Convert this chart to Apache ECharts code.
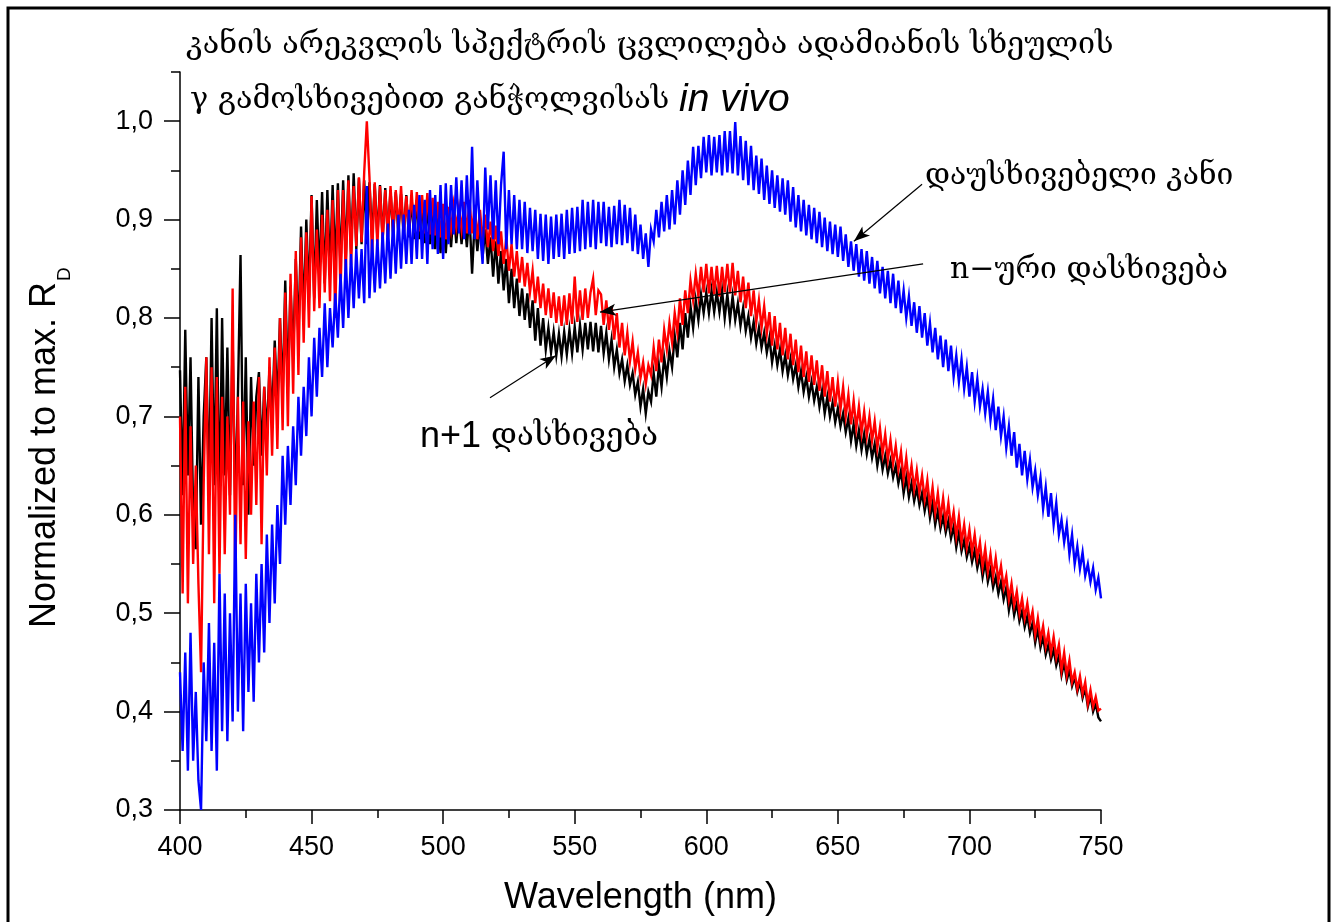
<!DOCTYPE html>
<html>
<head>
<meta charset="utf-8">
<script src="https://cdn.jsdelivr.net/npm/echarts@6/dist/echarts.min.js"></script>
<style>
html, body { margin: 0; padding: 0; background: #fff; }
#main { width: 1336px; height: 922px; }
</style>
</head>
<body>
<div id="main"></div>
<script>
// sampling grid of the spectra (nm)
var wlStart = 400;
var wlStep = 1;

// unirradiated skin (blue), 400..750 nm
var blueVals = [
  .44,.36,.46,.34,.48,.35,.42,.33,.30,.45,
  .37,.49,.36,.47,.34,.54,.38,.52,.37,.50,
  .39,.60,.40,.52,.38,.53,.42,.51,.41,.54,
  .45,.55,.46,.58,.49,.59,.51,.61,.55,.66,
  .59,.67,.61,.69,.63,.72,.66,.73,.68,.76,
  .70,.78,.72,.79,.74,.815,.75,.81,.77,.825,
  .78,.845,.79,.86,.80,.865,.81,.87,.82,.87,
  .815,.934,.82,.88,.826,.88,.83,.887,.835,.896,
  .84,.90,.845,.905,.85,.905,.855,.91,.855,.915,
  .86,.925,.86,.92,.855,.93,.87,.925,.865,.935,
  .86,.937,.875,.935,.885,.943,.886,.94,.88,.945,
  .885,.974,.88,.94,.89,.855,.953,.89,.945,.88,
  .94,.875,.935,.969,.87,.93,.875,.925,.87,.92,
  .87,.918,.866,.912,.868,.91,.86,.906,.858,.905,
  .855,.903,.86,.905,.862,.906,.86,.91,.865,.912,
  .866,.913,.868,.92,.87,.918,.872,.92,.87,.918,
  .876,.918,.873,.913,.872,.914,.875,.92,.874,.915,
  .876,.912,.868,.905,.865,.895,.86,.886,.852,.89,
  .878,.91,.882,.918,.888,.925,.89,.93,.895,.94,
  .905,.95,.915,.96,.925,.974,.935,.975,.942,.984,
  .948,.986,.945,.984,.948,.986,.945,.99,.948,.99,
  .947,.999,.945,.985,.94,.98,.935,.975,.93,.965,
  .926,.962,.92,.955,.916,.95,.912,.945,.908,.942,
  .905,.94,.898,.933,.892,.925,.888,.92,.884,.915,
  .88,.912,.876,.908,.872,.902,.868,.898,.865,.895,
  .862,.893,.858,.885,.852,.878,.848,.875,.842,.87,
  .838,.868,.835,.862,.83,.858,.825,.852,.82,.848,
  .815,.845,.81,.838,.805,.828,.8,.822,.792,.816,
  .785,.812,.78,.805,.772,.795,.765,.79,.758,.782,
  .75,.778,.746,.772,.74,.762,.735,.758,.728,.75,
  .72,.745,.715,.738,.71,.728,.703,.725,.696,.718,
  .686,.71,.68,.7,.668,.69,.66,.684,.648,.672,
  .64,.665,.636,.656,.628,.645,.62,.638,.606,.628,
  .598,.622,.59,.612,.58,.595,.572,.59,.56,.58,
  .55,.568,.545,.562,.538,.55,.532,.546,.524,.536,
  .515
];

// n-th irradiation (red)
var redVals = [
  .70,.52,.73,.51,.69,.55,.65,.53,.44,.63,
  .76,.56,.75,.51,.74,.54,.72,.56,.70,.60,
  .83,.53,.72,.57,.715,.555,.695,.60,.715,.61,
  .74,.57,.73,.64,.76,.66,.77,.667,.80,.686,
  .826,.69,.845,.723,.868,.742,.882,.775,.887,.79,
  .924,.807,.89,.81,.905,.826,.91,.817,.92,.80,
  .93,.826,.93,.845,.94,.854,.934,.873,.943,.877,
  .948,1.0,.943,.863,.938,.873,.934,.877,.93,.882,
  .934,.887,.93,.887,.934,.882,.924,.887,.93,.887,
  .928,.888,.925,.886,.927,.885,.922,.884,.918,.882,
  .916,.88,.913,.89,.915,.892,.912,.89,.918,.886,
  .92,.886,.915,.88,.91,.879,.905,.872,.898,.868,
  .894,.863,.888,.855,.882,.848,.875,.842,.868,.836,
  .862,.832,.856,.826,.848,.815,.842,.81,.835,.803,
  .83,.80,.826,.795,.822,.792,.823,.793,.825,.794,
  .842,.796,.828,.798,.83,.80,.826,.84,.803,.828,
  .824,.793,.818,.788,.812,.778,.805,.77,.795,.762,
  .785,.756,.776,.748,.765,.739,.755,.733,.752,.742,
  .77,.746,.778,.755,.788,.768,.795,.775,.805,.785,
  .82,.793,.828,.805,.838,.818,.845,.822,.852,.826,
  .855,.825,.852,.824,.853,.822,.852,.826,.855,.825,
  .856,.823,.848,.816,.842,.81,.836,.802,.828,.796,
  .818,.79,.812,.784,.806,.772,.802,.768,.795,.762,
  .79,.758,.784,.752,.778,.745,.772,.74,.766,.735,
  .762,.732,.757,.726,.752,.72,.746,.715,.74,.71,
  .735,.707,.73,.7,.722,.692,.716,.688,.71,.683,
  .705,.68,.7,.675,.695,.668,.688,.662,.682,.656,
  .676,.652,.67,.646,.664,.636,.658,.632,.65,.626,
  .645,.622,.64,.616,.635,.608,.628,.602,.622,.596,
  .617,.592,.612,.587,.603,.578,.598,.572,.59,.567,
  .585,.562,.58,.556,.572,.547,.566,.542,.56,.537,
  .556,.533,.548,.526,.538,.514,.53,.508,.522,.5,
  .515,.495,.51,.49,.502,.478,.495,.473,.487,.466,
  .48,.46,.476,.455,.468,.442,.46,.437,.452,.43,
  .44,.423,.436,.418,.43,.408,.422,.405,.415,.401,
  .403
];

// n+1 irradiation (black)
var blackVals = [
  .747,.62,.788,.64,.76,.60,.565,.74,.59,.70,
  .76,.62,.80,.63,.81,.60,.80,.64,.77,.62,
  .78,.61,.72,.864,.63,.76,.60,.74,.65,.72,
  .745,.66,.73,.68,.75,.70,.777,.71,.80,.72,
  .838,.73,.832,.76,.86,.78,.893,.80,.90,.82,
  .925,.82,.92,.84,.928,.835,.93,.845,.935,.85,
  .937,.85,.94,.86,.945,.865,.947,.87,.942,.875,
  .94,.875,.938,.88,.936,.882,.935,.88,.932,.882,
  .93,.884,.928,.886,.926,.885,.925,.882,.922,.88,
  .92,.88,.918,.876,.915,.875,.912,.87,.908,.866,
  .905,.866,.906,.872,.91,.876,.908,.875,.906,.872,
  .906,.845,.9,.868,.895,.862,.89,.855,.882,.842,
  .878,.835,.868,.828,.86,.815,.85,.81,.84,.802,
  .83,.798,.825,.79,.818,.777,.81,.772,.8,.768,
  .79,.765,.786,.762,.784,.761,.786,.763,.788,.764,
  .791,.765,.793,.768,.795,.768,.796,.766,.795,.765,
  .792,.764,.785,.758,.778,.75,.768,.744,.758,.736,
  .752,.732,.744,.722,.735,.71,.728,.703,.725,.715,
  .744,.72,.752,.73,.76,.74,.767,.75,.782,.76,
  .795,.768,.805,.78,.812,.79,.818,.798,.824,.805,
  .826,.805,.828,.806,.826,.806,.828,.8,.824,.798,
  .822,.798,.815,.792,.81,.787,.802,.78,.796,.774,
  .79,.77,.785,.765,.78,.755,.772,.752,.768,.746,
  .762,.742,.758,.738,.752,.73,.746,.725,.74,.72,
  .735,.716,.73,.71,.726,.703,.72,.7,.714,.694,
  .708,.69,.703,.684,.698,.675,.692,.67,.686,.666,
  .682,.662,.677,.658,.672,.65,.666,.646,.66,.642,
  .655,.638,.65,.632,.645,.622,.638,.618,.632,.614,
  .627,.61,.622,.604,.618,.597,.612,.59,.604,.586,
  .598,.582,.594,.576,.588,.567,.582,.563,.574,.557,
  .568,.552,.564,.546,.558,.537,.552,.532,.544,.526,
  .537,.52,.532,.514,.526,.503,.518,.498,.51,.492,
  .502,.486,.497,.48,.49,.47,.484,.465,.476,.458,
  .468,.453,.463,.447,.457,.437,.45,.432,.442,.426,
  .435,.42,.43,.414,.424,.405,.416,.4,.408,.394,
  .39
];

var xTicks = [400, 450, 500, 550, 600, 650, 700, 750];
var yTicks = [0.3, 0.4, 0.5, 0.6, 0.7, 0.8, 0.9, 1.0];

// arrows: [tail, tip] in data coords
var arrowUnirr = [[682.0, 0.936], [656.1, 0.878]];
var arrowNth = [[682.4, 0.855], [559.6, 0.806]];
var arrowN1 = [[517.8, 0.719], [542.9, 0.762]];

var sans = "'Liberation Sans', Arial, sans-serif";
var geo = "'DejaVu Serif', 'DejaVu Sans', serif";

function toPairs(vals) {
  return vals.map(function (v, i) { return [wlStart + i * wlStep, v]; });
}

function spectrum(name, vals, color, extra) {
  var s = {
    name: name,
    type: "line",
    data: toPairs(vals),
    symbol: "none",
    silent: true,
    animation: false,
    lineStyle: { color: color, width: 2.4, join: "miter" }
  };
  return Object.assign(s, extra || {});
}

var myChart = echarts.init(document.getElementById("main"));

var option = {
  backgroundColor: "#fff",
  animation: false,
  grid: { left: 180, top: 72, width: 921, height: 738 },
  xAxis: {
    type: "value",
    min: 400,
    max: 750,
    interval: 50,
    splitLine: { show: false },
    axisLine: { lineStyle: { color: "#000", width: 1.5 } },
    axisTick: { length: 14, lineStyle: { color: "#000", width: 1.5 } },
    minorTick: { show: true, splitNumber: 2, length: 8, lineStyle: { color: "#000", width: 1.5 } },
    axisLabel: {
      color: "#000",
      fontFamily: sans,
      fontSize: 27,
      margin: 24,
      customValues: xTicks
    },
    name: "Wavelength (nm)",
    nameLocation: "middle",
    nameGap: 70,
    nameTextStyle: { color: "#000", fontFamily: sans, fontSize: 36 }
  },
  yAxis: [
    {
      type: "value",
      min: 0.3,
      max: 1.05,
      interval: 0.05,
      splitLine: { show: false },
      axisLine: { show: true, lineStyle: { color: "#000", width: 1.5 } },
      axisTick: { length: 9, lineStyle: { color: "#000", width: 1.5 } },
      axisLabel: { show: false }
    },
    {
      type: "value",
      min: 0.3,
      max: 1.05,
      position: "left",
      splitLine: { show: false },
      axisLine: { show: false },
      axisTick: { show: true, length: 16, customValues: yTicks, lineStyle: { color: "#000", width: 1.5 } },
      axisLabel: {
        color: "#000",
        fontFamily: sans,
        fontSize: 27,
        margin: 27,
        customValues: yTicks,
        formatter: function (v) { return v.toFixed(1).replace(".", ","); }
      }
    }
  ],
  series: [
    spectrum("n+1", blackVals, "#000000"),
    spectrum("n", redVals, "#ff0000"),
    spectrum("unirradiated", blueVals, "#0000ff", {
      markLine: {
        silent: true,
        animation: false,
        symbol: ["none", "arrow"],
        symbolSize: [9, 16],
        label: { show: false },
        lineStyle: { color: "#000", width: 1.2, type: "solid" },
        emphasis: { disabled: true },
        data: [
          [{ coord: arrowUnirr[0] }, { coord: arrowUnirr[1] }],
          [{ coord: arrowNth[0] }, { coord: arrowNth[1] }],
          [{ coord: arrowN1[0] }, { coord: arrowN1[1] }]
        ]
      }
    })
  ],
  graphic: [
    {
      type: "rect",
      shape: { x: 8, y: 8, width: 1321, height: 940 },
      style: { fill: "none", stroke: "#000", lineWidth: 3 },
      silent: true
    },
    {
      type: "text",
      x: 186, y: 45,
      style: {
        text: "კანის არეკვლის სპექტრის ცვლილება ადამიანის სხეულის",
        font: "30.5px " + geo,
        fill: "#000",
        textAlign: "left",
        textVerticalAlign: "middle"
      }
    },
    {
      type: "text",
      x: 190, y: 100,
      style: {
        text: "{g|γ გამოსხივებით განჭოლვისას }{i|in vivo}",
        fill: "#000",
        textAlign: "left",
        textVerticalAlign: "middle",
        rich: {
          g: { font: "30.5px " + geo, fill: "#000" },
          i: { font: "italic 39px " + sans, fill: "#000" }
        }
      }
    },
    {
      type: "text",
      x: 925, y: 176,
      style: { text: "დაუსხივებელი კანი", font: "30px " + geo, fill: "#000", textAlign: "left", textVerticalAlign: "middle" }
    },
    {
      type: "text",
      x: 950, y: 270,
      style: { text: "n−ური დასხივება", font: "30px " + geo, fill: "#000", textAlign: "left", textVerticalAlign: "middle" }
    },
    {
      type: "text",
      x: 420, y: 437,
      style: {
        text: "{a|n+1 }{g|დასხივება}",
        textAlign: "left",
        textVerticalAlign: "middle",
        rich: {
          a: { font: "36px " + sans, fill: "#000" },
          g: { font: "31px " + geo, fill: "#000" }
        }
      }
    },
    {
      type: "text",
      x: 45, y: 628,
      rotation: Math.PI / 2,
      style: { text: "Normalized to max. R", font: "36px " + sans, fill: "#000", textAlign: "left", textVerticalAlign: "middle" }
    },
    {
      type: "text",
      x: 65, y: 281,
      rotation: Math.PI / 2,
      style: { text: "D", font: "19px " + sans, fill: "#000", textAlign: "left", textVerticalAlign: "middle" }
    }
  ]
};

myChart.setOption(option);
</script>
</body>
</html>
